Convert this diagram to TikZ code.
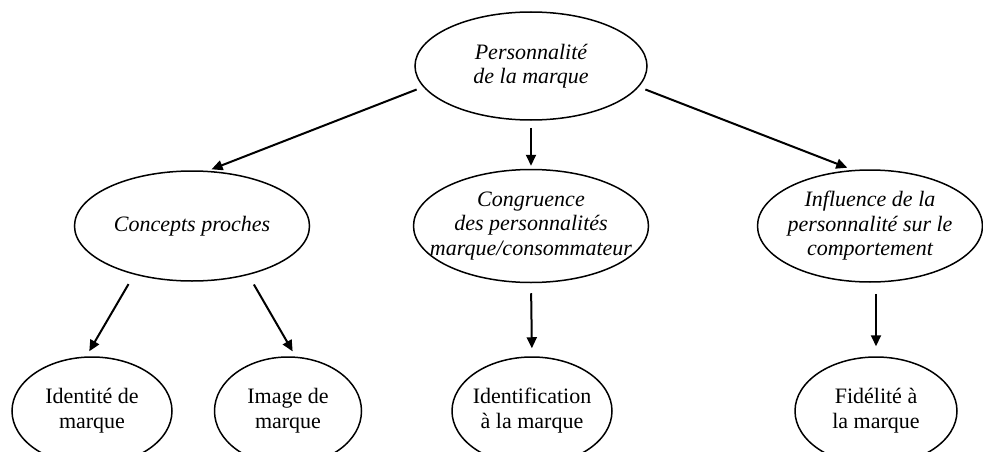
\documentclass[tikz,border=0pt]{standalone}
\usepackage{fontspec}
\setmainfont{Liberation Serif}
\usetikzlibrary{shapes.geometric,arrows.meta}

\tikzset{
	oval/.style={shape=ellipse, draw=black, line width=1.5pt, inner sep=0pt},
	says/.style={label={[align=center, font=\fontsize{22}{24.5}\selectfont\itshape]center:#1}},
	tells/.style={label={[align=center, font=\fontsize{22}{25}\selectfont]center:#1}},
	arr/.style={-{Triangle[length=11pt,width=10pt]}, line width=2pt}
}

\begin{document}
\begin{tikzpicture}[x=1pt, y=-1pt, node distance=160pt]
	\useasboundingbox (0,0) rectangle (983,452);
	\draw (531,66) node[oval, minimum width=232pt, minimum height=108pt, says={Personnalité\\de la marque}](P){};
	
	\draw node[below of = P, xshift = -339pt, oval, minimum width=235pt, minimum height=110pt, says={Concepts proches}](C){};
	\draw node[below of = P, oval, minimum width=235pt, minimum height=113pt, says={Congruence\\des personnalités\\marque/consommateur}](G){};
	\draw node[below of = P, xshift = 339pt, oval, minimum width=225pt, minimum height=112pt, says={Influence de la\\personnalité sur le\\comportement}](I){};
	
	\draw node[below of = C, node distance=185pt, xshift = -100pt, oval, minimum width=160pt, minimum height=108pt, tells={Identité de\\marque}](D){};
	\draw node[below of = C, node distance=185pt, xshift = 96pt, oval, minimum width=147pt, minimum height=108pt, tells={Image de\\marque}](M){};
	\draw node[below of = G, node distance=185pt, xshift = 1pt, oval, minimum width=160pt, minimum height=108pt, tells={Identification\\à la marque}](N){};
	\draw node[below of = I, node distance=185pt, xshift = 6pt, oval, minimum width=162pt, minimum height=108pt, tells={Fidélité à\\la marque}](F){};
	
	\draw[arr, shorten <=7pt, shorten >=4pt] (P.191) -- (C.74);
	\draw[arr, shorten <=7pt, shorten >=3pt] (P.south) -- (G.north);
	\draw[arr, shorten <=7pt, shorten >=6pt] (P.349) -- (I.107);
	
	\draw[arr, shorten <=11pt, shorten >=6pt] (C.220) -- (D.96);
	\draw[arr, shorten <=11pt, shorten >=6pt] (C.319) -- (M.82);
	\draw[arr, shorten <=10pt, shorten >=8pt] (G.south) -- (N.north);
	\draw[arr, shorten <=11pt, shorten >=10pt] (F.north |- I.south) -- (F.north);
\end{tikzpicture}
\end{document}
